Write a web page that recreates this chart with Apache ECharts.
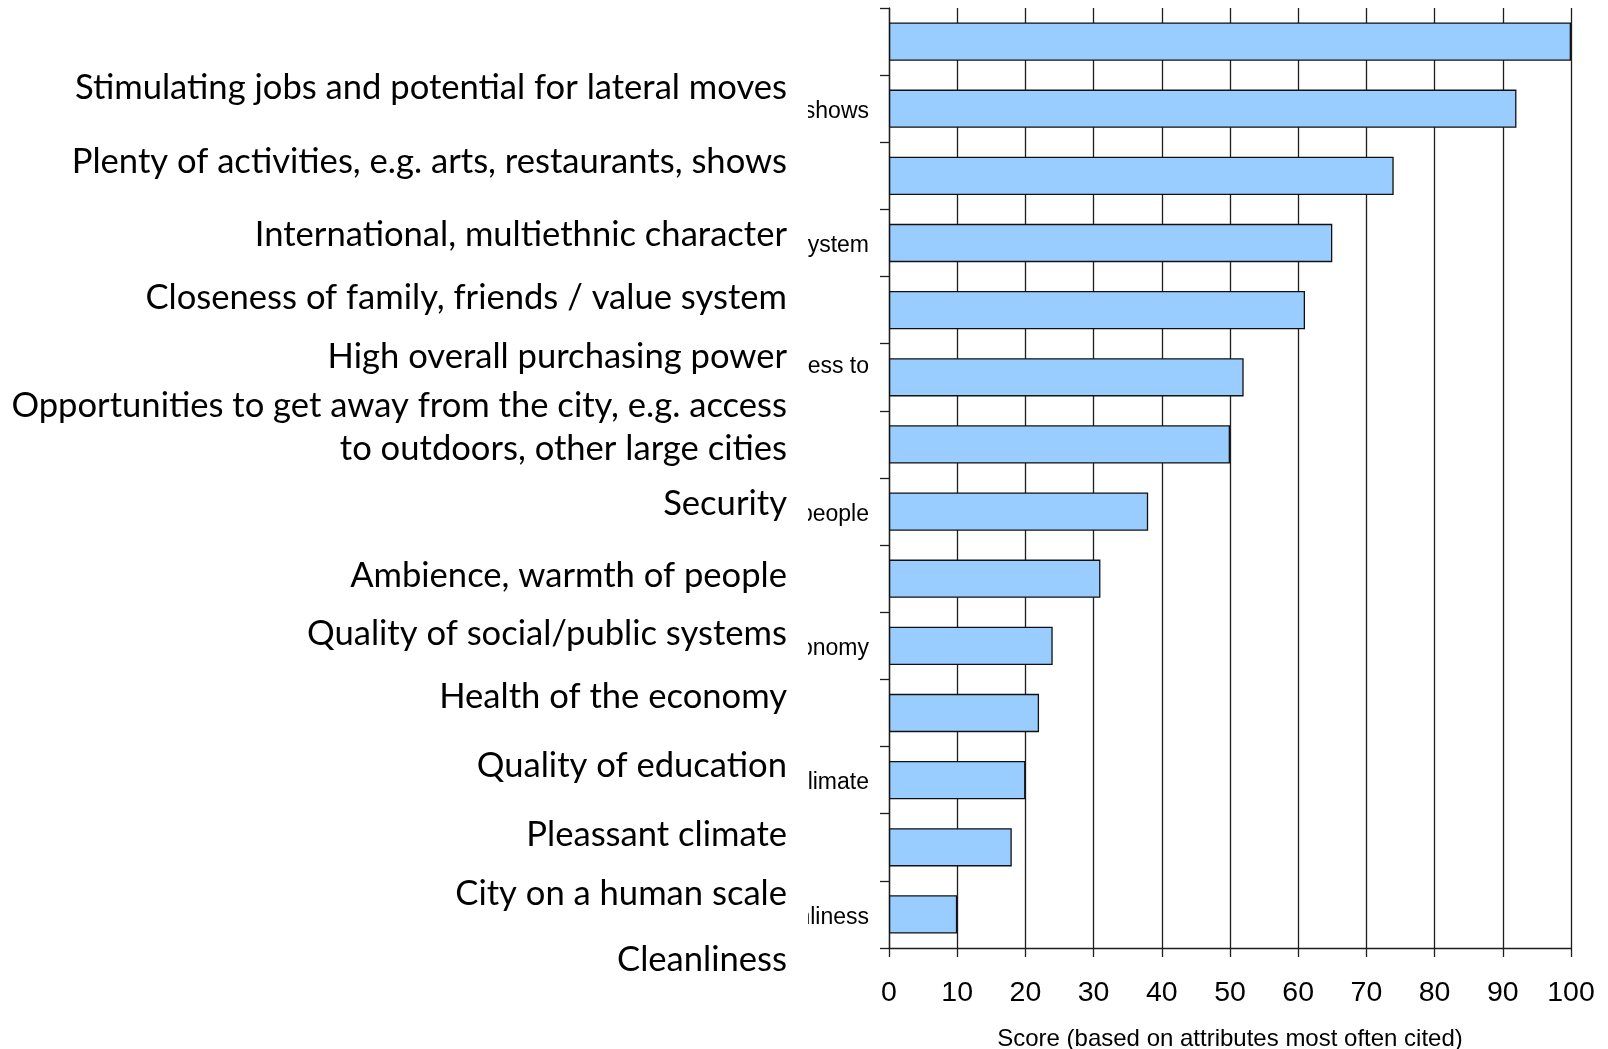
<!DOCTYPE html>
<html><head><meta charset="utf-8">
<script src="https://cdn.jsdelivr.net/npm/echarts@6/dist/echarts.min.js"></script>
<style>html,body{margin:0;padding:0;background:#fff}#c{width:1608px;height:1049px}</style>
</head><body><div id="c"></div>
<script>
// ---- data ----
const categories = [
  "Stimulating jobs and potential for lateral moves",
  "Plenty of activities, e.g. arts, restaurants, shows",
  "International, multiethnic character",
  "Closeness of family, friends / value system",
  "High overall purchasing power",
  "Opportunities to get away from the city, e.g. access to\noutdoors, other large cities",
  "Security",
  "Ambience, warmth of people",
  "Quality of social/public systems",
  "Health of the economy",
  "Quality of education",
  "Pleasant climate",
  "City on a human scale",
  "Cleanliness"
];
const scores = [100, 92, 74, 65, 61, 52, 50, 38, 31, 24, 22, 20, 18, 10];
const xMin = 0, xMax = 100, xStep = 10;
const axisTitle = "Score (based on attributes most often cited)";
// text box laid over the left side of the chart (as in the original slide)
const overlayLines = [
  "Stimulating jobs and potential for lateral moves",
  "Plenty of activities, e.g. arts, restaurants, shows",
  "International, multiethnic character",
  "Closeness of family, friends / value system",
  "High overall purchasing power",
  "Opportunities to get away from the city, e.g. access",
  "to outdoors, other large cities",
  "Security",
  "Ambience, warmth of people",
  "Quality of social/public systems",
  "Health of the economy",
  "Quality of education",
  "Pleassant climate",
  "City on a human scale",
  "Cleanliness"
];
// ---- layout ----
const overlayY = [88, 161.5, 235, 298, 356.5, 406, 449, 504, 576, 634, 696.5, 765.5, 835, 894, 960];
const overlayRight = 787;
const overlayFont = { fontFamily: "Lato", fontSize: 34.6 };

const chart = echarts.init(document.getElementById('c'), null, { renderer: 'canvas' });
const dark = '#1e1e1e';
const graphic = [{
  type: 'rect', z: 100, shape: { x: 0, y: 0, width: 808, height: 1049 }, style: { fill: '#fff' }
}];
overlayLines.forEach((t, i) => {
  graphic.push({
    type: 'text', z: 101, x: overlayRight, y: overlayY[i],
    style: { text: t, fontFamily: overlayFont.fontFamily, fontSize: overlayFont.fontSize,
      fill: '#000', align: 'right', verticalAlign: 'middle' }
  });
});

chart.setOption({
  animation: false,
  backgroundColor: '#fff',
  grid: { left: 889, right: 37, top: 8, bottom: 101, containLabel: false, outerBoundsMode: 'none' },
  xAxis: {
    type: 'value', min: xMin, max: xMax, interval: xStep,
    name: axisTitle, nameLocation: 'middle', nameGap: 79,
    nameTextStyle: { fontFamily: 'Liberation Sans, Arial', fontSize: 24, color: '#000' },
    axisLine: { show: true, lineStyle: { color: dark, width: 1.3 } },
    axisTick: { show: true, length: 9, lineStyle: { color: dark, width: 1.3 } },
    axisLabel: { fontFamily: 'Liberation Sans, Arial', fontSize: 28.5, color: '#000', margin: 31 },
    splitLine: { show: true, lineStyle: { color: dark, width: 1.3 } }
  },
  yAxis: {
    type: 'category', data: categories, inverse: true,
    axisLine: { show: true, lineStyle: { color: dark, width: 1.3 } },
    axisTick: { show: true, interval: 0, length: 9, alignWithLabel: false, lineStyle: { color: dark, width: 1.3 } },
    axisLabel: {
      interval: (idx) => idx % 2 === 1,
      margin: 20, color: '#000', padding: [6, 0, 0, 0],
      formatter: (v) => v.split('\n').map(s => '{c|' + s + '}').join('\n'),
      rich: { c: { align: 'center', fontFamily: 'Liberation Sans, Arial', fontSize: 23, lineHeight: 28, color: '#000' } }
    },
    splitLine: { show: false }
  },
  series: [{
    type: 'bar', data: scores, barCategoryGap: '43%',
    itemStyle: { color: '#99ccff', borderColor: '#111', borderWidth: 1.3 }
  }],
  graphic: graphic
});
</script></body></html>
